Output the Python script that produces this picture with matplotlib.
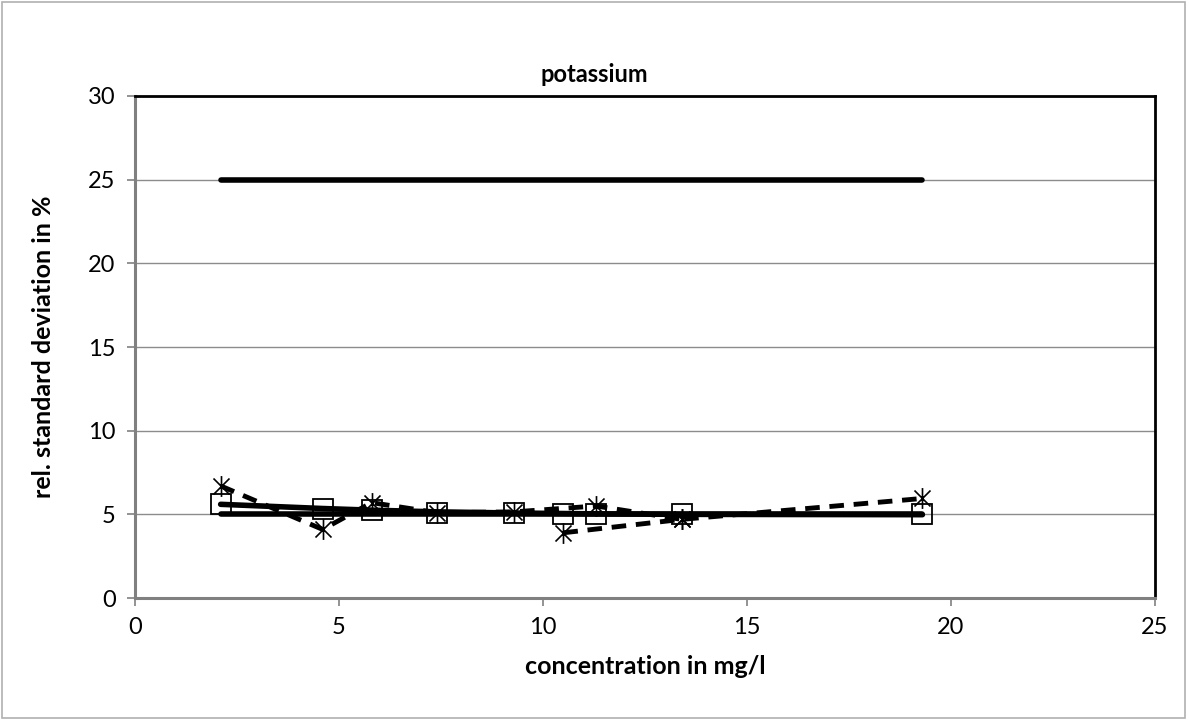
import numpy as np
import matplotlib
matplotlib.use('Agg')
import matplotlib.pyplot as plt
from matplotlib.path import Path
from matplotlib.patches import Rectangle

plt.rcParams['font.family'] = ['Lato', 'DejaVu Sans']

# data
conc = [2.1, 4.6, 5.8, 7.4, 9.3, 10.5, 11.3, 13.4, 19.3]
rsd_squares = [5.6, 5.3, 5.25, 5.1, 5.1, 5.0, 5.0, 5.0, 5.0]
rsd_curve = [5.6, 5.35, 5.25, 5.15, 5.08, 5.05, 5.03, 5.0, 4.98]

conc_star_a = [2.1, 4.6, 5.8, 7.4, 9.3, 11.3, 13.4]
rsd_star_a = [6.7, 4.1, 5.7, 5.1, 5.15, 5.5, 4.7]
conc_star_b = [10.5, 13.4, 19.3]
rsd_star_b = [3.9, 4.7, 5.95]

limit_x = [2.1, 19.3]
upper_limit = [25, 25]
lower_limit = [5, 5]

# asterisk marker like the spreadsheet one: X plus a vertical bar
star = Path([(-1, -1), (1, 1), (-1, 1), (1, -1), (0, -1.3), (0, 1.3)],
            [Path.MOVETO, Path.LINETO, Path.MOVETO, Path.LINETO, Path.MOVETO, Path.LINETO])

fig = plt.figure(figsize=(11.89, 7.20), dpi=100)
ax = fig.add_axes([0.1135, 0.1694, 0.8579, 0.6973])

ax.plot(limit_x, upper_limit, color='black', lw=4, solid_capstyle='round', zorder=3)
ax.plot(limit_x, lower_limit, color='black', lw=4, solid_capstyle='round', zorder=3)
ax.plot(conc, rsd_curve, color='black', lw=4, solid_capstyle='round', zorder=3)
ax.plot(conc, rsd_squares, ls='none', marker='s', ms=14, mfc='none', mec='black', mew=1.3, zorder=4)
ax.plot(conc_star_a, rsd_star_a, color='black', lw=3.5, ls=(0, (3, 2)), marker=star, ms=15, mew=1.2, zorder=4)
ax.plot(conc_star_b, rsd_star_b, color='black', lw=3.5, ls=(0, (3, 2)), marker=star, ms=15, mew=1.2, zorder=4)

ax.set_xlim(0, 25)
ax.set_ylim(0, 30)
ax.set_xticks(range(0, 26, 5))
ax.set_yticks(range(0, 31, 5))
ax.yaxis.grid(True, color='#8c8c8c', lw=1)
ax.set_axisbelow(True)

for s in ['top', 'right']:
    ax.spines[s].set_color('black')
    ax.spines[s].set_linewidth(2)
for s in ['left', 'bottom']:
    ax.spines[s].set_color('#808080')
    ax.spines[s].set_linewidth(2.2)
ax.tick_params(direction='out', length=6, width=1.2, color='#808080', labelsize=17, pad=8)

ax.set_xlabel('concentration in mg/l', fontsize=18, fontweight='bold', labelpad=12)
ax.set_ylabel('rel. standard deviation in %', fontsize=18, fontweight='bold', labelpad=24)
fig.text(0.5, 0.896, 'potassium', ha='center', va='center', fontsize=17, fontweight='bold')

fig.patches.append(Rectangle((0.002, 0.003), 0.995, 0.994, transform=fig.transFigure,
                             fill=False, edgecolor='#b0b0b0', lw=1.2))

fig.savefig('out.png', dpi=100)
